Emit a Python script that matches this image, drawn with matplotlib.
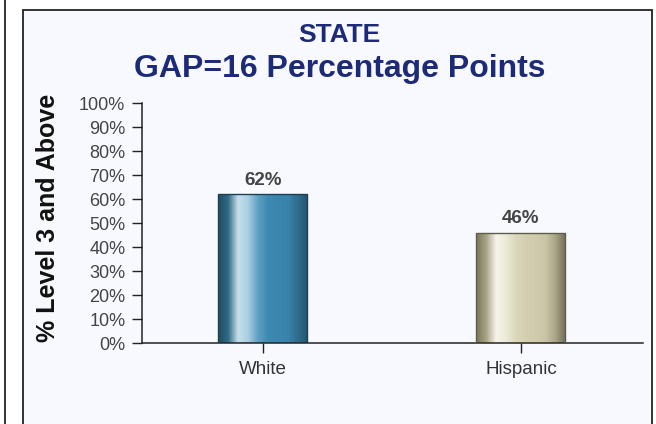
import numpy as np
import matplotlib
matplotlib.use("Agg")
import matplotlib.pyplot as plt
from matplotlib.patches import Rectangle
from matplotlib.lines import Line2D
from matplotlib.colors import LinearSegmentedColormap

categories = ["White", "Hispanic"]
values = [62, 46]
value_labels = ["62%", "46%"]
yticks = [0, 10, 20, 30, 40, 50, 60, 70, 80, 90, 100]
ytick_labels = [f"{v}%" for v in yticks]
title_top = "STATE"
title_main = "GAP=16 Percentage Points"
ylabel = "% Level 3 and Above"

plt.rcParams['font.family'] = ['Liberation Sans', 'DejaVu Sans']

W, H = 656, 424
fig = plt.figure(figsize=(W / 100, H / 100), dpi=100)
fig.patch.set_facecolor("white")

# outer panel
panel = Rectangle((23 / W, -0.05), (652 - 23) / W, 1.05 - 10 / H,
                  transform=fig.transFigure, facecolor="#F8F9FE",
                  edgecolor="#222222", linewidth=1.3, zorder=-10)
fig.patches.append(panel)
fig.lines.append(Line2D([4.5 / W, 4.5 / W], [0, 1], transform=fig.transFigure,
                        color="#222222", linewidth=1.3, zorder=-10))

ax = fig.add_axes([142 / W, (H - 343) / H, (643 - 142) / W, (343 - 103) / H])
ax.set_zorder(5)
ax.set_facecolor("none")
x = np.arange(len(categories))
bw = 0.345

gradients = [
    ["#1f4b62", "#2f6a86", "#c6dfea", "#a9cfe0", "#5fa0c4", "#3f8ab3",
     "#3b86ae", "#3a84ab", "#2f6d8e", "#24536b"],
    ["#77745c", "#a6a385", "#f6f4ea", "#ecead8", "#dcd8bd", "#d3ceb0",
     "#d0cbad", "#c9c4a5", "#a7a386", "#6f6c57"],
]
edges = ["#1d3f52", "#5e5c4a"]

bars = ax.bar(x, values, width=bw, color="none", edgecolor=edges[0],
              linewidth=1.0, zorder=3)
for i, b in enumerate(bars):
    b.set_edgecolor(edges[i])
    cmap = LinearSegmentedColormap.from_list(f"g{i}", gradients[i])
    grad = np.linspace(0, 1, 256).reshape(1, -1)
    im = ax.imshow(grad, cmap=cmap, aspect="auto",
                   extent=[b.get_x(), b.get_x() + b.get_width(), 0, b.get_height()],
                   zorder=2, interpolation="bilinear")
    im.set_clip_path(b)
    ax.annotate(value_labels[i], (b.get_x() + b.get_width() / 2, b.get_height()),
                xytext=(0, 4), textcoords="offset points", ha="center", va="bottom",
                fontsize=13.5, fontweight="bold", color="#444444")

ax.set_xlim(-0.469, 1.473)
ax.set_ylim(0, 100)
ax.set_xticks(x)
ax.set_xticklabels(categories, fontsize=13.5, color="#333333")
ax.set_yticks(yticks)
ax.set_yticklabels(ytick_labels, fontsize=13, color="#444444")
ax.tick_params(axis="y", length=7, width=1, pad=5, color="#222222")
ax.tick_params(axis="x", length=7, width=1, pad=6, color="#222222")
for s in ["top", "right"]:
    ax.spines[s].set_visible(False)
for s in ["left", "bottom"]:
    ax.spines[s].set_color("#222222")
    ax.spines[s].set_linewidth(1.1)

fig.text(0.517, 1 - 35 / H, title_top, ha="center", va="center",
         fontsize=19, fontweight="bold", color="#1c2a78")
fig.text(0.518, 1 - 69 / H, title_main, ha="center", va="center",
         fontsize=23, fontweight="bold", color="#1c2a78")
fig.text(48 / W, 1 - 218 / H, ylabel, ha="center", va="center", rotation=90,
         fontsize=18, fontweight="bold", color="#111111")

fig.savefig("out.png", dpi=100, facecolor=fig.get_facecolor())
